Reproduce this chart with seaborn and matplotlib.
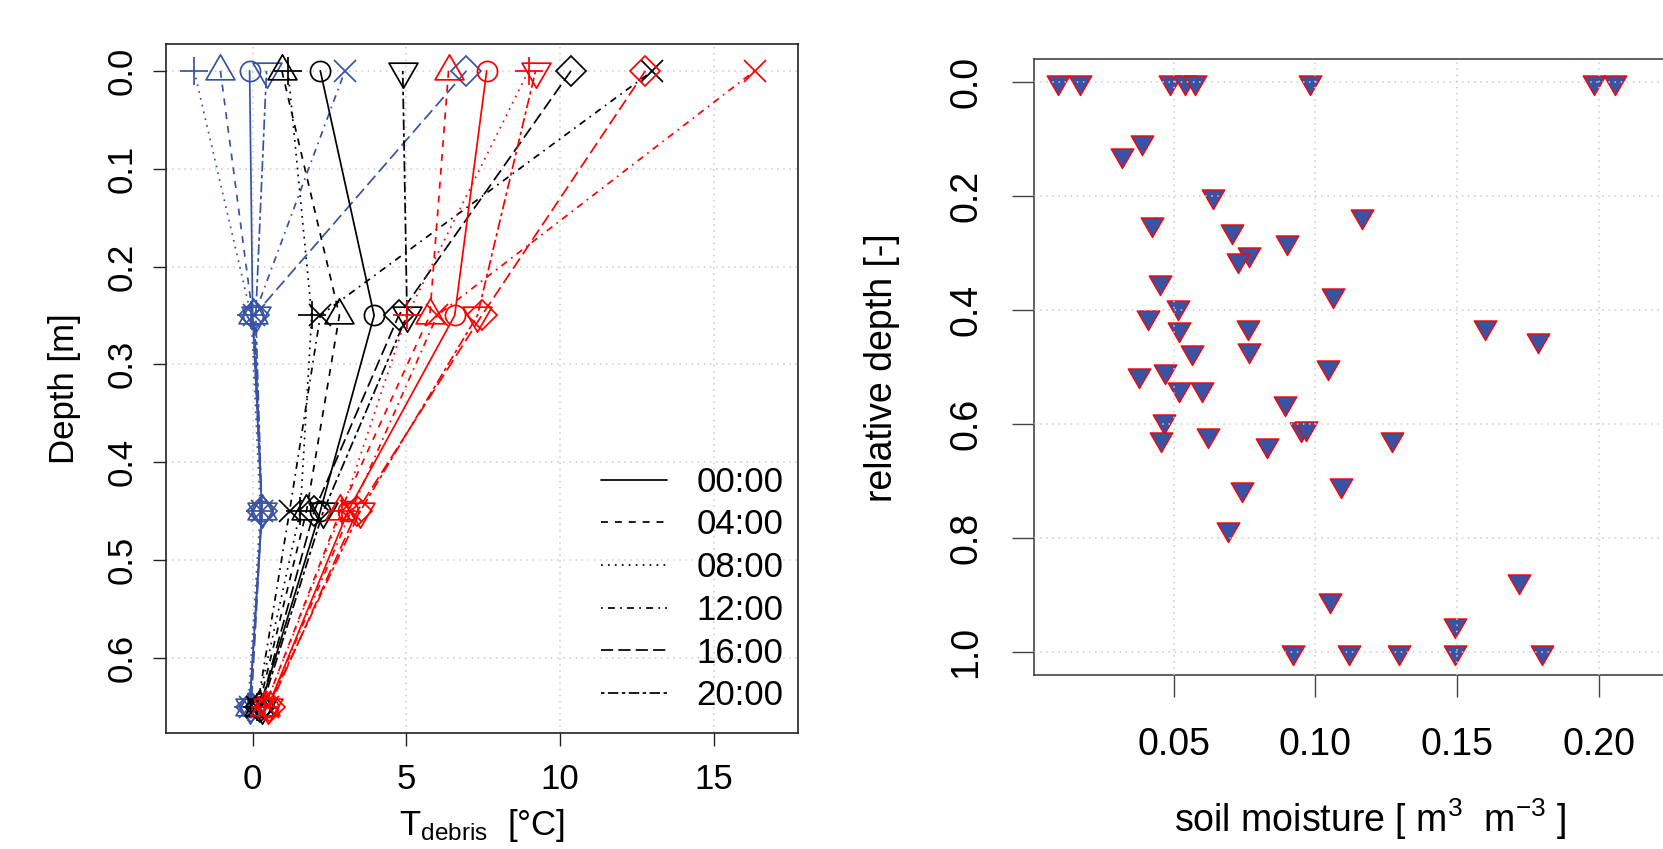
import matplotlib
matplotlib.use('Agg')
import matplotlib.pyplot as plt
from matplotlib.lines import Line2D
from matplotlib.path import Path
import pandas as pd
import seaborn as sns

# ---- data ----
depth = [0.0, 0.25, 0.45, 0.65]
times = ['00:00', '04:00', '08:00', '12:00', '16:00', '20:00']

# debris temperature (degC), one row per time, columns follow `depth`
temp_blue = [
    [-0.10, 0.00, 0.30, -0.10],
    [-1.05, 0.00, 0.30, -0.10],
    [-1.90, -0.05, 0.25, -0.15],
    [3.00, 0.05, 0.30, -0.10],
    [6.95, 0.05, 0.30, -0.05],
    [0.45, 0.10, 0.30, -0.10],
]
temp_black = [
    [2.20, 3.95, 2.20, 0.25],
    [0.95, 2.82, 1.75, 0.20],
    [1.15, 1.92, 1.55, 0.15],
    [13.00, 2.20, 1.20, 0.15],
    [10.35, 4.75, 2.00, 0.25],
    [4.88, 5.02, 2.30, 0.30],
]
temp_red = [
    [7.61, 6.57, 3.10, 0.50],
    [6.37, 5.76, 2.85, 0.40],
    [8.97, 5.02, 2.90, 0.40],
    [16.32, 6.00, 3.20, 0.50],
    [12.77, 7.45, 3.40, 0.55],
    [9.20, 7.31, 3.50, 0.50],
]

moisture = [0.0089, 0.0170, 0.0485, 0.0540, 0.0573, 0.0980, 0.1985, 0.2058,
            0.0388, 0.0318, 0.0638, 0.1165, 0.0422, 0.0705, 0.0898, 0.0764,
            0.0725, 0.0450, 0.1061, 0.0515, 0.0407, 0.0519, 0.0763, 0.1600,
            0.1787, 0.0564, 0.0764, 0.1046, 0.0376, 0.0469, 0.0519, 0.0599,
            0.0894, 0.0465, 0.0456, 0.0619, 0.0830, 0.0948, 0.0968, 0.1272,
            0.0741, 0.1091, 0.0690, 0.1720, 0.1052, 0.1494, 0.0921, 0.1119,
            0.1296, 0.1494, 0.1802]
rel_depth = [0.0, 0.0, 0.0, 0.0, 0.0, 0.0, 0.0, 0.0,
             0.105, 0.128, 0.199, 0.235, 0.249, 0.261, 0.280, 0.302,
             0.312, 0.351, 0.374, 0.395, 0.412, 0.433, 0.429, 0.429,
             0.453, 0.474, 0.470, 0.499, 0.514, 0.507, 0.538, 0.538,
             0.562, 0.594, 0.626, 0.619, 0.636, 0.609, 0.607, 0.626,
             0.714, 0.706, 0.784, 0.875, 0.909, 0.953, 1.0, 1.0,
             1.0, 1.0, 1.0]

BLUE = '#3953A4'
RED = '#FF0000'

# R-like symbols (pch 1..6) and line types
tri_up = Path([(0, 1.155), (-1, -0.577), (1, -0.577), (0, 1.155)], closed=True)
tri_dn = Path([(0, -1.155), (-1, 0.577), (1, 0.577), (0, -1.155)], closed=True)
pch = [('o', 14.5), (tri_up, 24), ('+', 20.5), ('x', 16), ('D', 15.3), (tri_dn, 24)]
lty = ['-', (0, (4, 4)), (0, (1, 3)), (0, (1, 3, 4, 3)), (0, (7, 3)), (0, (2, 2, 6, 2))]

sns.set_theme(style='white')
plt.rcParams['font.family'] = ['Liberation Sans', 'DejaVu Sans']
plt.rcParams['mathtext.fontset'] = 'custom'
plt.rcParams['mathtext.rm'] = 'Liberation Sans'
plt.rcParams['axes.unicode_minus'] = False
for key in ['text.color', 'axes.labelcolor', 'xtick.color', 'ytick.color']:
    plt.rcParams[key] = 'black'

fig = plt.figure(figsize=(16.63, 8.49), dpi=100)
ax = fig.add_axes([0.0998, 0.1366, 0.3798, 0.8110])
ax2 = fig.add_axes([0.6218, 0.2049, 0.4041, 0.7252])

grid_kw = dict(color='#CCCCCC', linestyle=(0, (1, 3)), linewidth=1.1)

# ---- left: temperature profiles ----
ax.set_axisbelow(True)
ax.grid(True, **grid_kw)
for color, block in [(BLUE, temp_blue), ('black', temp_black), (RED, temp_red)]:
    for i, t in enumerate(times):
        prof = pd.DataFrame({'T': block[i], 'depth': depth})
        m, ms = pch[i]
        sns.lineplot(data=prof, x='T', y='depth', sort=False, estimator=None, ax=ax,
                     color=color, linestyle=lty[i], linewidth=1.25, marker=m,
                     markersize=ms, markerfacecolor='none', markeredgecolor=color,
                     markeredgewidth=1.25)

ax.set_xlim(-2.82, 17.72)
ax.set_ylim(0.677, -0.027)
ax.set_xticks([0, 5, 10, 15], labels=['0', '5', '10', '15'])
ax.set_yticks([0, 0.1, 0.2, 0.3, 0.4, 0.5, 0.6],
              labels=['0.0', '0.1', '0.2', '0.3', '0.4', '0.5', '0.6'])
ax.tick_params(axis='both', direction='out', length=9.4, width=1.0, color='#222222',
               labelsize=25, labelcolor='black', bottom=True, left=True)
ax.tick_params(axis='x', pad=12)
ax.tick_params(axis='y', pad=10.4, labelrotation=90)
plt.setp(ax.get_yticklabels(), va='center')
for s in ax.spines.values():
    s.set_color('#222222')
    s.set_linewidth(1.2)

ax.set_xlabel(r'$\mathregular{T_{debris}}$  [°C]', fontsize=25, va='center')
ax.xaxis.set_label_coords(0.5, -0.1336)
ax.set_ylabel('Depth [m]', fontsize=25, va='center')
ax.yaxis.set_label_coords(-0.160, 0.5)

handles = [Line2D([], [], color='black', linestyle=lty[i], linewidth=1.25) for i in range(6)]
ax.legend(handles, times, loc='lower right', bbox_to_anchor=(0.978, 0.03),
          frameon=False, fontsize=25, handlelength=1.9, handletextpad=0.85,
          labelspacing=0.28, borderpad=0, borderaxespad=0)

# ---- right: soil moisture ----
ax2.set_axisbelow(False)
ax2.grid(True, **grid_kw)
sm = pd.DataFrame({'moisture': moisture, 'rel_depth': rel_depth})
sns.scatterplot(data=sm, x='moisture', y='rel_depth', ax=ax2, marker=tri_dn, s=18.8 ** 2,
                color=BLUE, edgecolor=RED, linewidth=1.0, zorder=1)
ax2.set_xlim(0.0006, 0.238)
ax2.set_ylim(1.04, -0.04)
ax2.set_xticks([0.05, 0.10, 0.15, 0.20], labels=['0.05', '0.10', '0.15', '0.20'])
ax2.set_yticks([0, 0.2, 0.4, 0.6, 0.8, 1.0], labels=['0.0', '0.2', '0.4', '0.6', '0.8', '1.0'])
ax2.tick_params(axis='both', direction='out', length=15.8, width=1.0, color='#444444',
                labelsize=27, labelcolor='black', bottom=True, left=True)
ax2.tick_params(axis='x', pad=21.3)
ax2.tick_params(axis='y', pad=20, labelrotation=90)
plt.setp(ax2.get_yticklabels(), va='center')
for s in ax2.spines.values():
    s.set_color('#444444')
    s.set_linewidth(1.2)

ax2.set_xlabel(r'soil moisture [ m$\mathregular{^3}$  m$\mathregular{^{-3}}$ ]', fontsize=27, va='center')
ax2.xaxis.set_label_coords(0.5, -0.234)
ax2.set_ylabel('relative depth [-]', fontsize=27, va='center')
ax2.yaxis.set_label_coords((882 - 1034) / 672, 0.5)

fig.savefig('out.png', dpi=100)
